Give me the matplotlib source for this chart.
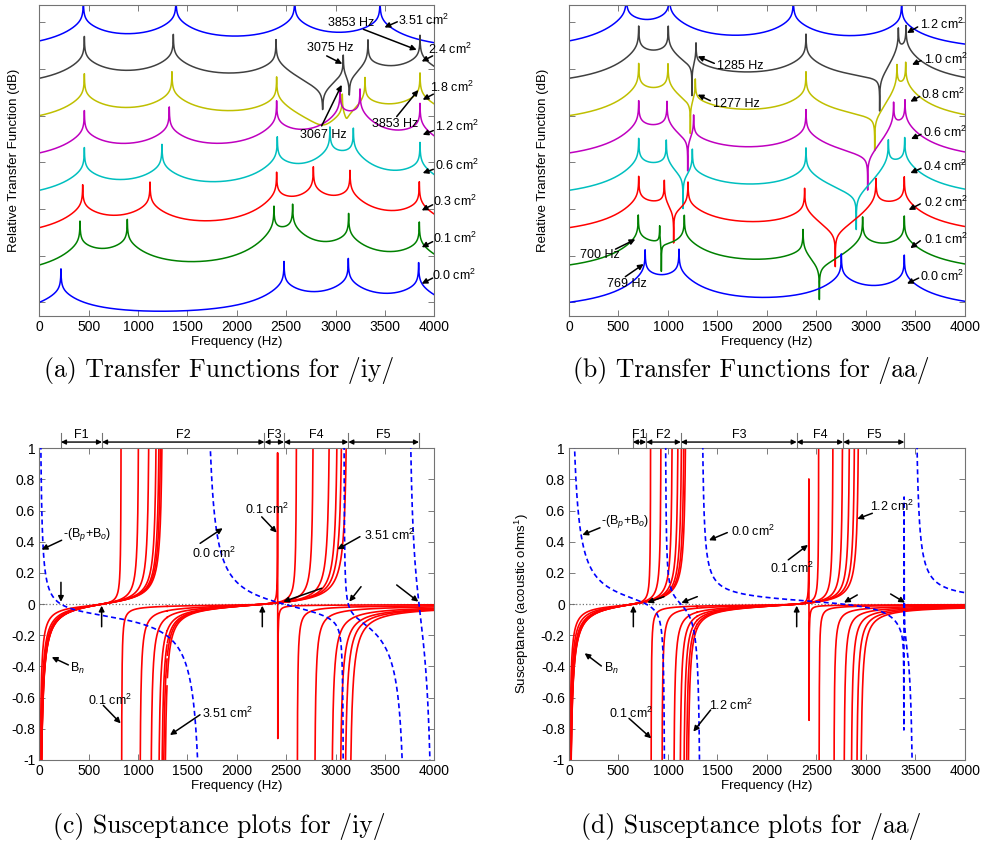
import numpy as np
import matplotlib
matplotlib.use("Agg")
import matplotlib.pyplot as plt

plt.rcParams['font.family'] = ['Liberation Sans', 'DejaVu Sans']
plt.rcParams['mathtext.fontset'] = 'custom'
plt.rcParams['mathtext.rm'] = 'Liberation Sans'
plt.rcParams['mathtext.it'] = 'Liberation Sans:italic'

# ---------------- transfer functions (top row) ----------------
# formant (pole) and anti-formant (zero, bandwidth) frequencies, Hz
iy_labels = ['3.51', '2.4', '1.8', '1.2', '0.6', '0.3', '0.1', '0.0']
iy_start = [56, 48, 40, 32, 24, 16, 8, 0]
iy_poles = [[446, 1384, 2586, 3450],
            [456, 1357, 2397, 3078, 3328, 3855],
            [456, 1343, 2403, 3068, 3298, 3855],
            [456, 1316, 2403, 3045, 3247, 3855],
            [456, 1242, 2410, 2943, 3180, 3855],
            [439, 1121, 2403, 2775, 3146, 3848],
            [412, 891, 2376, 2565, 3132, 3848],
            [219, 2478, 3129, 3841]]
iy_zeros = [[], [(2869, 1), (3139, 1)], [(2880, 100), (3110, 15)],
            [], [], [], [], []]

aa_labels = ['1.2', '1.0', '0.8', '0.6', '0.4', '0.2', '0.1', '0.0']
aa_start = [56, 48, 40, 32, 24, 16, 8, 0]
aa_poles = [[579, 1013, 2266, 3360],
            [704, 1003, 1283, 2394, 3327, 3404],
            [704, 1000, 1276, 2394, 3313, 3401],
            [704, 990, 1259, 2394, 3279, 3394],
            [704, 983, 1246, 2394, 3226, 3391],
            [704, 963, 1202, 2380, 3101, 3387],
            [700, 916, 1165, 2364, 2966, 3387],
            [769, 1111, 2751, 3387]]
aa_zeros = [[], [(1242, 0.05), (3138, 0.05)], [(1226, 0.05), (3088, 0.05)],
            [(1199, 0.05), (3017, 0.05)], [(1152, 0.05), (2902, 0.05)],
            [(1057, 0.05), (2690, 0.05)], [(933, 0.05), (2529, 0.05)], []]

tf_colors = ['#0000ff', '#404040', '#bfbf00', '#bf00bf', '#00bfbf',
             '#ff0000', '#008000', '#0000ff']

# ---------------- susceptance (bottom row) ----------------
iy_areas = [0.1, 0.3, 0.6, 1.2, 1.8, 2.4, 3.51]
iy_bn_zeros = [635, 2280]
iy_bn_poles = [1295, 3262]
iy_mass = 8.69e-4
iy_bpo_zeros = [219, 2478, 3129, 3845]
iy_bpo_poles = [1670, 3082, 3726, 4010]
iy_bpo_scale = 16.7

aa_areas = [0.1, 0.2, 0.4, 0.6, 0.8, 1.0, 1.2]
aa_bn_zeros = [645, 2300]
aa_bn_poles = [1295, 3250]
aa_mass = 9.49e-4
aa_bpo_zeros = [780, 1130, 2770, 3387.5]
aa_bpo_poles = [970, 1334, 3384.2, 3490]
aa_bpo_scale = 58.0

BN_SCALE = 25.0

# annotations: text, text (left, middle), arrow tail, arrow tip
iy_tf_notes = [
    ("3.51 cm$^2$", (3635, 60.4), (3625, 60.1), (3495, 58.9)),
    ("3853 Hz", (2927, 59.8), (3281, 58.5), (3821, 54.1)),
    ("2.4 cm$^2$", (3939, 54.1), (3983, 52.8), (3872, 51.6)),
    ("3075 Hz", (2707, 54.5), (2910, 52.8), (3068, 51.1)),
    ("1.8 cm$^2$", (3956, 46.1), (3990, 44.6), (3882, 43.4)),
    ("3853 Hz", (3365, 38.2), (3619, 39.8), (3838, 45.5)),
    ("3067 Hz", (2640, 35.9), (2859, 37.8), (3062, 46.6)),
    ("1.2 cm$^2$", (4007, 37.7), (3990, 36.8), (3882, 35.9)),
    ("0.6 cm$^2$", (4007, 29.3), (3990, 28.5), (3882, 27.7)),
    ("0.3 cm$^2$", (3983, 21.6), (3983, 20.9), (3872, 19.7)),
    ("0.1 cm$^2$", (3990, 13.7), (3983, 13.0), (3872, 11.8)),
    ("0.0 cm$^2$", (3980, 5.8), (3983, 5.2), (3872, 4.0)),
]
aa_tf_notes = [
    ("1.2 cm$^2$", (3542, 59.5), (3522, 59.0), (3414, 57.7)),
    ("1.0 cm$^2$", (3582, 52.1), (3556, 51.8), (3465, 50.9)),
    ("0.8 cm$^2$", (3556, 44.5), (3542, 44.1), (3448, 43.0)),
    ("0.6 cm$^2$", (3576, 36.5), (3556, 36.0), (3455, 35.0)),
    ("0.4 cm$^2$", (3572, 29.1), (3556, 28.7), (3448, 27.7)),
    ("0.2 cm$^2$", (3582, 21.4), (3549, 21.1), (3431, 19.8)),
    ("0.1 cm$^2$", (3582, 13.5), (3549, 13.2), (3448, 11.6)),
    ("0.0 cm$^2$", (3549, 5.5), (3532, 5.2), (3414, 4.0)),
    ("1285 Hz", (1495, 50.7), (1468, 51.2), (1300, 52.7)),
    ("1277 Hz", (1455, 42.5), (1428, 43.2), (1300, 44.5)),
    ("700 Hz", (114, 10.2), (470, 11.4), (670, 13.5)),
    ("769 Hz", (384, 4.0), (569, 5.5), (754, 8.2)),
]
iy_b_notes = [
    ("-(B$_p$+B$_o$)", (243, 0.444), (226, 0.41), (24, 0.35)),
    ("B$_n$", (311, -0.41), (294, -0.39), (126, -0.34)),
    ("0.1 cm$^2$", (497, -0.615), (648, -0.65), (824, -0.765)),
    ("3.51 cm$^2$", (1644, -0.70), (1627, -0.71), (1323, -0.84)),
    ("0.0 cm$^2$", (1543, 0.327), (1628, 0.39), (1857, 0.487)),
    ("0.1 cm$^2$", (2083, 0.609), (2252, 0.56), (2404, 0.459)),
    ("3.51 cm$^2$", (3288, 0.444), (3247, 0.433), (3018, 0.352)),
]
iy_b_arrows = [((631, -0.145), (631, -0.01)), ((2258, -0.145), (2258, -0.01)),
               ((219, 0.14), (219, 0.015)), ((2860, 0.102), (2471, 0.016)),
               ((3258, 0.112), (3139, 0.016)), ((3619, 0.123), (3838, 0.016))]
aa_b_notes = [
    ("-(B$_p$+B$_o$)", (320, 0.53), (313, 0.49), (135, 0.444)),
    ("0.0 cm$^2$", (1640, 0.465), (1599, 0.459), (1414, 0.41)),
    ("B$_n$", (354, -0.41), (327, -0.397), (158, -0.315)),
    ("0.1 cm$^2$", (404, -0.70), (606, -0.733), (831, -0.861)),
    ("1.2 cm$^2$", (1414, -0.647), (1431, -0.679), (1256, -0.818)),
    ("0.1 cm$^2$", (2030, 0.23), (2215, 0.284), (2414, 0.38)),
    ("1.2 cm$^2$", (3040, 0.63), (3064, 0.583), (2912, 0.547)),
]
aa_b_arrows = [((650, -0.145), (650, -0.01)), ((2300, -0.145), (2300, -0.01)),
               ((960, 0.048), (791, 0.01)), ((1296, 0.048), (1135, 0.008)),
               ((2912, 0.059), (2778, 0.01)), ((3249, 0.065), (3394, 0.01))]

# resonance shape: a sharp narrow cusp on top of a broad skirt
K_NARROW, W_NARROW, BW_POLE = 0.12, 200.0, 0.5
K_BROAD, W_BROAD, BW_BROAD = 0.25, 1000.0, 150.0


def resonance(f, fc, bw):
    d2 = (f - fc) ** 2
    narrow = 10 * np.log10(1 + W_NARROW ** 2 / (d2 + bw ** 2))
    broad = 10 * np.log10(1 + W_BROAD ** 2 / (d2 + max(bw, BW_BROAD) ** 2))
    return K_NARROW * narrow + K_BROAD * broad


def transfer(f, poles, zeros):
    s = np.zeros_like(f)
    for p in poles:
        s += resonance(f, p, BW_POLE)
    for z, bz in zeros:
        s -= resonance(f, z, bz)
    return s


def nasal(f, zeros, poles):
    return -BN_SCALE * (1 - f / zeros[0]) * (1 - f / zeros[1]) / (
        f * (1 - f / poles[0]) * (1 - f / poles[1]))


def bn(f, area, zeros, poles, mass):
    b = nasal(f, zeros, poles)
    return b / (1 - 2 * np.pi * f * mass / area * b)


def bpo(f, zeros, poles, c):
    num = np.prod([1 - f / z for z in zeros], axis=0)
    den = f * np.prod([1 - f / p for p in poles], axis=0)
    return c * num / den


def split(f, y):
    y = np.clip(y, -3, 3)
    jump = np.where((y[:-1] * y[1:] < 0) & (np.abs(y[:-1]) > 1) & (np.abs(y[1:]) > 1))[0] + 1
    return np.insert(f, jump, np.nan), np.insert(y, jump, np.nan)


def style(ax):
    for s in ax.spines.values():
        s.set_color('0.45')
        s.set_linewidth(0.8)
    ax.tick_params(direction='in', top=True, right=True, length=4, width=0.6,
                   color='0.4', labelsize=10, pad=3)
    ax.set_xlim(0, 4000)
    ax.set_xticks(np.arange(0, 4001, 500))
    ax.set_xlabel('Frequency (Hz)', fontsize=9.5, labelpad=1)


def arrow(ax, tail, tip):
    ax.annotate('', xy=tip, xytext=tail, annotation_clip=False,
                arrowprops=dict(arrowstyle='-|>', color='k', lw=1.1,
                                mutation_scale=8, shrinkA=0, shrinkB=0))


def notes(ax, items):
    for text, pos, tail, tip in items:
        ax.text(pos[0], pos[1], text, fontsize=9, ha='left', va='center', clip_on=False)
        arrow(ax, tail, tip)


def tf_panel(ax, start, poles, zeros, items):
    f = np.arange(0, 4001, 1.0)
    for i in range(len(poles)):
        s = transfer(f, poles[i], zeros[i])
        ax.plot(f, start[i] + s - s[0], color=tf_colors[i], lw=1.1)
    style(ax)
    ax.set_ylim(-2.93, 63.7)
    ax.set_yticks(np.arange(0, 61, 10))
    ax.set_yticklabels([])
    ax.set_ylabel('Relative Transfer Function (dB)', fontsize=9.5)
    ax.yaxis.set_label_coords(-0.05, 0.5)
    notes(ax, items)


def b_panel(ax, areas, zn, pn, mass, zb, pb, cb, items, arrs):
    f = np.arange(1, 4001, 2.0)
    ax.axhline(0, color='0.45', ls=':', lw=0.9, zorder=1)
    for a in areas:
        ff, yy = split(f, bn(f, a, zn, pn, mass))
        ax.plot(ff, yy, color='#ff0000', lw=1.2, zorder=2)
    ff, yy = split(f, bpo(f, zb, pb, cb))
    ax.plot(ff, yy, color='#0000ff', lw=1.2, ls=(0, (3, 2)), zorder=3)
    style(ax)
    ax.set_ylim(-1, 1)
    ticks = np.round(np.arange(-1, 1.01, 0.2), 1)
    ax.set_yticks(ticks)
    ax.set_yticklabels(['%g' % t if t != 0 else '0' for t in ticks])
    ax.set_ylabel('Susceptance (acoustic ohms$^{1}$)', fontsize=9.5)
    ax.yaxis.set_label_coords(-0.095, 0.5)
    notes(ax, items)
    for tail, tip in arrs:
        arrow(ax, tail, tip)
    # formant regions above the axes
    bounds = np.sort(np.concatenate([zn, zb]))
    for b in bounds:
        ax.plot([b, b], [1.0, 1.1], color='0.45', lw=0.8, clip_on=False)
    for k in range(len(bounds) - 1):
        ax.annotate('', xy=(bounds[k + 1], 1.04), xytext=(bounds[k], 1.04),
                    annotation_clip=False,
                    arrowprops=dict(arrowstyle='<|-|>', color='k', lw=1.0,
                                    mutation_scale=7, shrinkA=0, shrinkB=0))
        ax.text((bounds[k] + bounds[k + 1]) / 2, 1.085, 'F%d' % (k + 1),
                ha='center', va='center', fontsize=9, clip_on=False)


fig = plt.figure(figsize=(9.88, 8.5), dpi=100)
ax_a = fig.add_axes([0.0398, 0.6282, 0.3998, 0.3659])
ax_b = fig.add_axes([0.5759, 0.6282, 0.4008, 0.3659])
ax_c = fig.add_axes([0.0398, 0.1059, 0.3998, 0.3667])
ax_d = fig.add_axes([0.5759, 0.1059, 0.4008, 0.3667])

tf_panel(ax_a, iy_start, iy_poles, iy_zeros, iy_tf_notes)
tf_panel(ax_b, aa_start, aa_poles, aa_zeros, aa_tf_notes)
b_panel(ax_c, iy_areas, iy_bn_zeros, iy_bn_poles, iy_mass,
        iy_bpo_zeros, iy_bpo_poles, iy_bpo_scale, iy_b_notes, iy_b_arrows)
b_panel(ax_d, aa_areas, aa_bn_zeros, aa_bn_poles, aa_mass,
        aa_bpo_zeros, aa_bpo_poles, aa_bpo_scale, aa_b_notes, aa_b_arrows)

captions = ['(a) Transfer Functions for /iy/', '(b) Transfer Functions for /aa/',
            '(c) Susceptance plots for /iy/', '(d) Susceptance plots for /aa/']
cap_pos = [(219, 370), (751, 370), (219, 827), (751, 827)]
for txt, (x, y) in zip(captions, cap_pos):
    fig.text(x / 988, 1 - y / 850, txt, family='cmr10', fontsize=18.5,
             ha='center', va='center')

fig.savefig('out.png', dpi=100)
